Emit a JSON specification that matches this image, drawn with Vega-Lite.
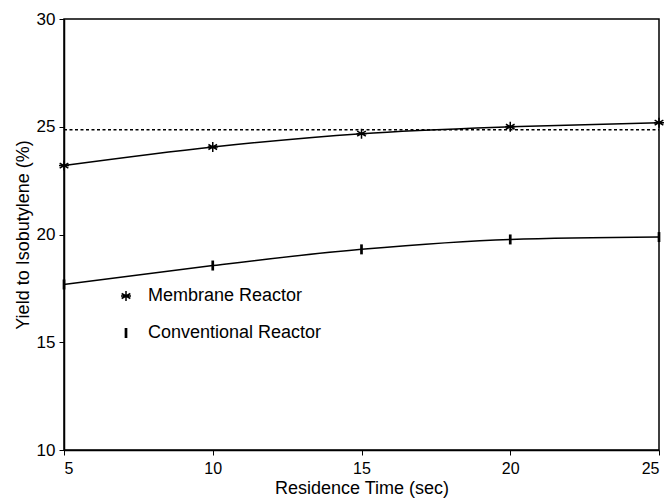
{
  "$schema": "https://vega.github.io/schema/vega-lite/v6.json",
  "width": 595,
  "height": 431,
  "autosize": "none",
  "padding": {"left": 64, "top": 19, "right": 12, "bottom": 50},
  "background": "white",
  "config": {
    "font": "Liberation Sans",
    "view": {"stroke": "black", "strokeWidth": 1.5},
    "axis": {
      "domainColor": "black",
      "domainWidth": 1.5,
      "tickColor": "black",
      "tickSize": 5,
      "labelColor": "black",
      "titleColor": "black",
      "labelFontSize": 17,
      "titleFontSize": 18,
      "titleFontWeight": "normal",
      "grid": false
    }
  },
  "datasets": {
    "series": [
      {"time": 5, "yield": 23.2, "reactor": "Membrane Reactor"},
      {"time": 10, "yield": 24.06, "reactor": "Membrane Reactor"},
      {"time": 15, "yield": 24.68, "reactor": "Membrane Reactor"},
      {"time": 20, "yield": 25.0, "reactor": "Membrane Reactor"},
      {"time": 25, "yield": 25.19, "reactor": "Membrane Reactor"},
      {"time": 5, "yield": 17.68, "reactor": "Conventional Reactor"},
      {"time": 10, "yield": 18.56, "reactor": "Conventional Reactor"},
      {"time": 15, "yield": 19.31, "reactor": "Conventional Reactor"},
      {"time": 20, "yield": 19.77, "reactor": "Conventional Reactor"},
      {"time": 25, "yield": 19.88, "reactor": "Conventional Reactor"}
    ],
    "equilibrium": [
      {"time": 5, "yield": 24.86},
      {"time": 25, "yield": 24.86}
    ]
  },
  "layer": [
    {
      "data": {"name": "equilibrium"},
      "mark": {"type": "line", "color": "black", "strokeWidth": 1.5, "strokeDash": [3, 2.5]},
      "encoding": {
        "x": {"field": "time", "type": "quantitative"},
        "y": {"field": "yield", "type": "quantitative"}
      }
    },
    {
      "data": {"name": "series"},
      "mark": {"type": "line", "color": "black", "strokeWidth": 1.5, "interpolate": "monotone"},
      "encoding": {
        "x": {
          "field": "time", "type": "quantitative",
          "scale": {"domain": [5, 25], "nice": false},
          "axis": {"values": [5, 10, 15, 20, 25], "title": "Residence Time (sec)", "labelFontSize": 16, "labelPadding": 5, "titlePadding": 3}
        },
        "y": {
          "field": "yield", "type": "quantitative",
          "scale": {"domain": [10, 30], "nice": false, "zero": false},
          "axis": {"values": [10, 15, 20, 25, 30], "title": "Yield to Isobutylene (%)", "labelPadding": 4, "titlePadding": 4}
        },
        "detail": {"field": "reactor"}
      }
    },
    {
      "data": {"name": "series"},
      "mark": {"type": "point", "filled": false, "color": "black", "strokeWidth": 1.5, "opacity": 1, "size": 100},
      "encoding": {
        "x": {"field": "time", "type": "quantitative"},
        "y": {"field": "yield", "type": "quantitative"},
        "shape": {
          "field": "reactor", "type": "nominal",
          "scale": {
            "domain": ["Membrane Reactor", "Conventional Reactor"],
            "range": [
              "M0,-1L0,1M-0.87,-0.5L0.87,0.5M-0.87,0.5L0.87,-0.5M-1,0L1,0",
              "M-0.12,-0.85L0.12,-0.85L0.12,0.85L-0.12,0.85Z"
            ]
          },
          "legend": {
            "title": null,
            "orient": "none",
            "legendX": 53,
            "legendY": 268,
            "padding": 0,
            "labelFontSize": 18,
            "labelColor": "black",
            "labelLimit": 400,
            "labelOffset": 13,
            "rowPadding": 19,
            "symbolSize": 100,
            "symbolFillColor": "transparent",
            "symbolStrokeColor": "black",
            "symbolStrokeWidth": 1.5
          }
        }
      }
    }
  ]
}
